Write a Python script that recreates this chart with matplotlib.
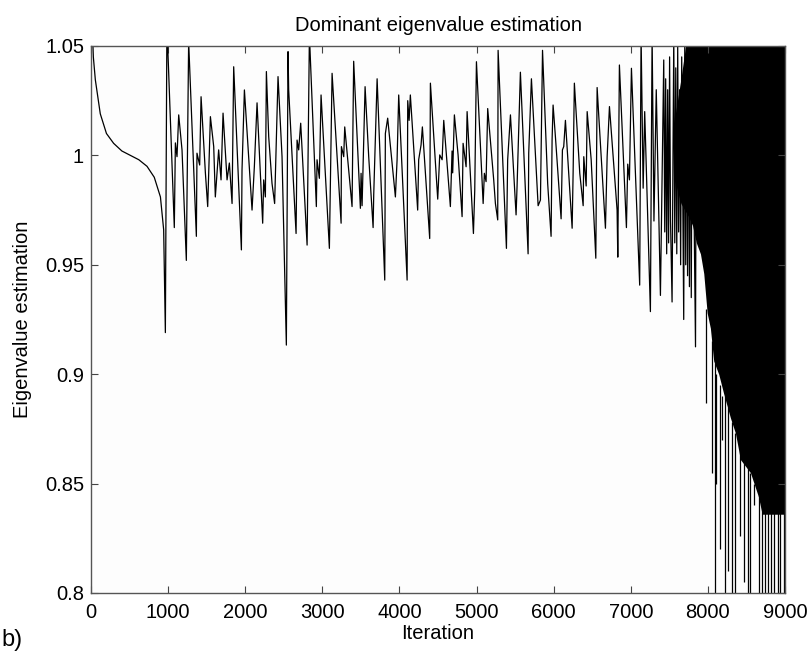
# plot.py
# Dominant eigenvalue estimation vs iteration, MATLAB-style figure.
# Values (peaks / troughs of the trace).

import matplotlib
matplotlib.use("Agg")             # no display
import matplotlib.pyplot as plt

plt.rcParams["font.family"] = ["Liberation Sans", "DejaVu Sans"]

# ── data ─────────────────────────────────────────────────────────────────────

# smooth start-up transient
start_iter = [0, 15, 30, 56, 120, 200, 293, 400, 510, 620, 726, 820, 900, 942, 964]
start_val  = [1.20, 1.06, 1.045, 1.0345, 1.019, 1.010, 1.0055, 1.002, 1.000,
              0.998, 0.995, 0.990, 0.981, 0.966, 0.919]

# oscillating part (peaks, troughs and kinks of the trace)
osc_iter = [
    984, 1080, 1094, 1115, 1137, 1180, 1236, 1266, 1366, 1374, 1409, 1427,
    1483, 1513, 1548, 1591, 1612, 1655, 1686, 1712, 1764, 1794, 1829, 1850,
    1950, 1958, 1989, 2088, 2118, 2153, 2226, 2239, 2261, 2274, 2304, 2347,
    2381, 2399, 2425, 2477, 2533, 2555, 2563, 2659, 2672, 2693, 2719, 2802,
    2832, 2922, 2931, 2961, 2983, 3091, 3126, 3243, 3247, 3277, 3290, 3385,
    3406, 3493, 3502, 3515, 3554, 3601, 3658, 3666, 3710, 3809, 3817, 3847,
    3947, 3969, 3990, 4099, 4107, 4125, 4141, 4236, 4249, 4280, 4297, 4392,
    4401, 4496, 4522, 4553, 4574, 4660, 4682, 4690, 4712, 4760, 4812, 4825,
    4864, 4877, 4959, 4976, 4998, 5085, 5101, 5123, 5144, 5222, 5244, 5274,
    5279, 5387, 5403, 5439, 5512, 5525, 5568, 5668, 5676, 5711, 5798, 5828,
    5855, 5922, 5966, 5979, 5992, 6022, 6096, 6113, 6130, 6152, 6239, 6252,
    6268, 6338, 6382, 6390, 6421, 6434, 6486, 6546, 6563, 6585, 6671, 6693,
    6723, 6822, 6831, 6852, 6943, 6960, 6982, 7008, 7115, 7133, 7160, 7180,
    7254, 7276, 7300, 7330, 7384, 7427, 7440, 7452, 7465, 7478, 7490, 7503,
    7515, 7535, 7557, 7570, 7583, 7596, 7608, 7620, 7633, 7646, 7660, 7686,
    7700, 7712, 7724, 7736, 7748, 7760, 7772, 7784, 7796, 7839, 7850,
]
osc_val = [
    1.060, 0.967, 1.0057, 0.9994, 1.0185, 1.0025, 0.952, 1.052, 0.963, 1.001, 0.9956, 1.0268,
    0.992, 0.9766, 1.0177, 1.004, 0.981, 1.0025, 0.9888, 1.0193, 0.9888, 0.9965, 0.978, 1.0405,
    0.9568, 0.9933, 1.0299, 0.975, 0.9948, 1.024, 0.969, 0.9888, 0.981, 1.0383, 1.0086, 0.9872,
    0.978, 1.0025, 1.036, 0.9994, 0.9133, 1.0474, 1.030, 0.9643, 1.007, 1.0025, 1.0147, 0.959,
    1.055, 0.9766, 0.998, 0.9895, 1.0276, 0.9575, 1.0375, 0.969, 1.004, 0.9994, 1.013, 0.9766,
    1.043, 0.9758, 0.9918, 0.977, 1.0314, 0.9994, 0.967, 0.982, 1.035, 0.943, 1.010, 1.017,
    0.981, 0.998, 1.0276, 0.943, 1.025, 1.016, 1.0276, 0.975, 0.998, 1.0048, 1.013, 0.962,
    1.033, 0.980, 1.0002, 0.998, 1.016, 0.9766, 1.002, 0.992, 1.0185, 1.0002, 0.972, 1.0055,
    0.9948, 1.020, 0.9643, 0.984, 1.0428, 0.978, 0.9918, 0.988, 1.0214, 0.9888, 0.978, 0.9705,
    1.048, 0.9575, 0.998, 1.0185, 0.9728, 0.986, 1.038, 0.955, 1.001, 1.035, 0.977, 0.9796,
    1.048, 0.987, 0.963, 1.007, 1.023, 1.0086, 0.971, 1.0025, 1.004, 1.016, 0.9667, 0.9925,
    1.033, 0.9918, 0.977, 0.9994, 0.986, 1.020, 0.998, 0.953, 1.031, 1.0177, 0.9667, 0.9994,
    1.0223, 0.975, 0.9535, 1.0413, 0.967, 0.996, 0.9888, 1.0398, 0.9407, 1.055, 0.985, 1.020,
    0.9286, 1.055, 0.970, 1.030, 0.936, 1.0436, 0.965, 1.035, 0.955, 1.030, 0.960, 1.045,
    0.970, 0.933, 1.055, 0.960, 1.040, 0.955, 1.050, 0.965, 1.030, 0.950, 1.045, 0.925,
    1.055, 0.950, 1.055, 0.945, 1.055, 0.940, 1.055, 0.935, 1.055, 0.9125, 1.055,
]

# divergent tail: oscillation so dense it shows as a solid band
band_iter = [7560, 7650, 7750, 7800, 7850, 7903, 7946, 7990, 8032, 8075, 8140, 8205,
             8292, 8357, 8421, 8551, 8655, 8703, 9000]
band_hi   = [1.015, 1.035, 1.060, 1.060, 1.060, 1.060, 1.060, 1.060, 1.060, 1.060, 1.060, 1.060,
             1.060, 1.060, 1.060, 1.060, 1.060, 1.060, 1.060]
band_lo   = [0.990, 0.978, 0.972, 0.968, 0.960, 0.955, 0.946, 0.928, 0.921, 0.906, 0.900, 0.891,
             0.880, 0.873, 0.861, 0.855, 0.844, 0.836, 0.836]

# single downward strokes sticking out under the band
spike_iter = [7980, 8054, 8097, 8110, 8163, 8184, 8227, 8257, 8314, 8348, 8421, 8464,
              8516, 8551, 8594, 8659, 8703, 8737, 8780, 8823, 8862, 8905, 8940, 8983]
spike_top  = [0.930, 0.915, 0.905, 0.900, 0.895, 0.890, 0.890, 0.885, 0.878, 0.873, 0.865, 0.860,
              0.858, 0.855, 0.850, 0.845, 0.840, 0.840, 0.840, 0.840, 0.840, 0.840, 0.840, 0.840]
spike_low  = [0.887, 0.855, 0.790, 0.850, 0.820, 0.870, 0.790, 0.810, 0.790, 0.790, 0.826, 0.805,
              0.790, 0.790, 0.840, 0.790, 0.790, 0.790, 0.790, 0.790, 0.790, 0.790, 0.790, 0.790]

x_ticks = [0, 1000, 2000, 3000, 4000, 5000, 6000, 7000, 8000, 9000]
y_ticks = [0.8, 0.85, 0.9, 0.95, 1.0, 1.05]
y_tick_labels = ["0.8", "0.85", "0.9", "0.95", "1", "1.05"]


def main():
    fig = plt.figure(figsize=(8.12, 6.52), dpi=100)
    ax = fig.add_axes([0.1121, 0.0905, 0.8547, 0.8390])
    ax.set_facecolor("#fdfdfd")

    trace_x = start_iter + osc_iter
    trace_y = start_val + osc_val
    ax.plot(trace_x, trace_y, color="black", linewidth=0.9)
    ax.fill_between(band_iter, band_lo, band_hi, color="black", linewidth=0)
    ax.vlines(spike_iter, spike_low, spike_top, color="black", linewidth=0.9)

    ax.set_xlim(0, 9000)
    ax.set_ylim(0.8, 1.05)
    ax.set_xticks(x_ticks)
    ax.set_yticks(y_ticks)
    ax.set_yticklabels(y_tick_labels)

    ax.tick_params(direction="in", length=5, width=0.8, color="#444444",
                   top=True, right=True, labelsize=14.5)
    ax.tick_params(axis="x", pad=7)
    ax.tick_params(axis="y", pad=5)
    for sp in ax.spines.values():
        sp.set_color("#555555")
        sp.set_linewidth(1.0)

    ax.set_title("Dominant eigenvalue estimation", fontsize=14.5, pad=11)
    ax.set_xlabel("Iteration", fontsize=14.5, labelpad=2)
    ax.set_ylabel("Eigenvalue estimation", fontsize=14.5, labelpad=9)

    fig.text(0.002, 0.009, "b)", fontsize=17, ha="left", va="baseline")

    fig.savefig("out.png", dpi=100)
    plt.close(fig)


if __name__ == "__main__":
    main()
